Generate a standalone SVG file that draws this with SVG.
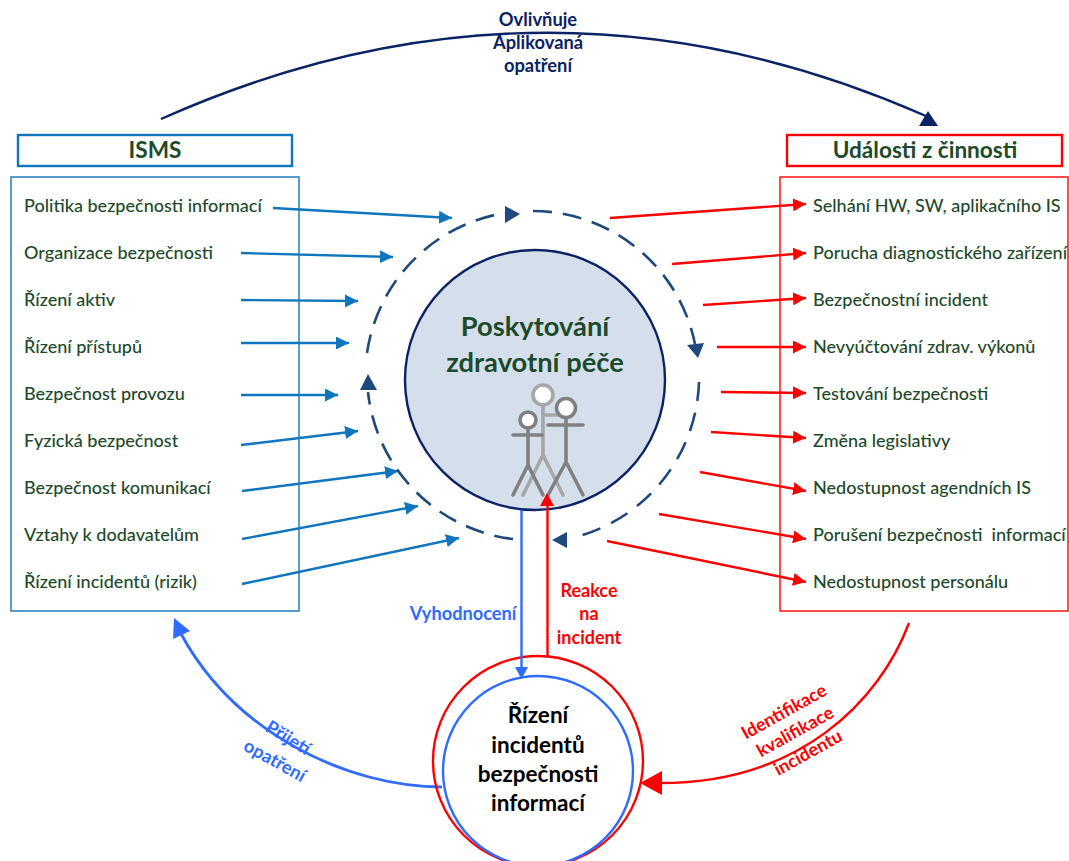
<svg xmlns="http://www.w3.org/2000/svg" width="1069" height="861" viewBox="0 0 1069 861">
<style>
text{font-family:Lato,"Noto Sans",sans-serif;font-weight:500}
.it{font-size:18.05px;fill:#1d4a2a}
.tt{font-size:22.6px;font-weight:700;fill:#1d4a2a;text-anchor:middle}
.ct{font-size:27.3px;font-weight:700;fill:#1d4a2a;text-anchor:middle}
.nv{font-size:18.3px;font-weight:700;fill:#0b2265;text-anchor:middle}
.rd{font-size:18px;font-weight:700;fill:#f00;text-anchor:middle}
.bl{font-size:18.2px;font-weight:700;fill:#2f6bff;text-anchor:middle}
.bk{font-size:22.5px;font-weight:700;fill:#000;text-anchor:middle}
.ab{stroke:#0f75bc;stroke-width:2.4;fill:none;marker-end:url(#mb)}
.ar{stroke:#f00;stroke-width:2.4;fill:none;marker-end:url(#mr)}
.fig{fill:none;stroke-width:3.6;stroke-linecap:round}
.dash{fill:none;stroke:#1f497d;stroke-width:2.6;stroke-dasharray:19 11}
.head{fill:#1f497d}
</style>
<defs>
<marker id="mb" markerUnits="userSpaceOnUse" markerWidth="14" markerHeight="13" refX="13" refY="6.500" orient="auto"><path d="M0 0L13 6.500L0 13Z" fill="#0f75bc"/></marker>
<marker id="mr" markerUnits="userSpaceOnUse" markerWidth="14" markerHeight="13" refX="13" refY="6.500" orient="auto"><path d="M0 0L13 6.500L0 13Z" fill="#f00"/></marker>
</defs>
<g id="connectors">
<path d="M161 119Q545 -52 926 116" fill="none" stroke="#0b2265" stroke-width="2.4"/>
<path d="M928 111L919 126L938 126Z" fill="#0b2265"/>
<path class="ab" d="M273 208L452 218"/>
<path class="ab" d="M241 253L393 257"/>
<path class="ab" d="M241 300L358 301"/>
<path class="ab" d="M241 343L349 343"/>
<path class="ab" d="M241 395L338 395"/>
<path class="ab" d="M241 445L358 431"/>
<path class="ab" d="M242 491L398 471"/>
<path class="ab" d="M242 539L418 506"/>
<path class="ab" d="M242 584L459 538"/>
<path class="ar" d="M610 218L806 204"/>
<path class="ar" d="M672 264L806 253"/>
<path class="ar" d="M703 305L806 298"/>
<path class="ar" d="M717 347L806 347"/>
<path class="ar" d="M721 392L806 393"/>
<path class="ar" d="M711 432L806 438"/>
<path class="ar" d="M700 472L806 491"/>
<path class="ar" d="M659 514L806 539"/>
<path class="ar" d="M607 541L806 582"/>
<path d="M909 623C880 700 800 785 655 783" fill="none" stroke="#f00" stroke-width="2.4"/>
<path d="M640 783L662 771L662 795Z" fill="#f00"/>
<path d="M442 787C350 787 235 735 180 632" fill="none" stroke="#2f6bff" stroke-width="2.8"/>
<path d="M174 618L190 631L173 639Z" fill="#2f6bff"/>
</g>
<g id="cycle">
<path class="dash" d="M513 539A166 166 0 0 1 368 392"/>
<path class="dash" d="M367 353A166 166 0 0 1 505 213"/>
<path class="dash" d="M533 211A166 166 0 0 1 695 344"/>
<path class="dash" d="M699 382A166 166 0 0 1 572 538" style="stroke-dasharray:19 12"/>
<path class="head" d="M520 214L505 206L505 223Z"/>
<path class="head" d="M698 358L687 345L704 343Z"/>
<path class="head" d="M552 540L567 532L567 548Z"/>
<path class="head" d="M368 374L360 390L377 390Z"/>
</g>
<g id="isms"><rect x="18" y="135" width="274" height="31" fill="#fff" stroke="#0f75bc" stroke-width="2.4"/><text class="tt" x="155" y="158">ISMS</text></g>
<g id="udalosti"><rect x="787" y="135" width="275" height="31" fill="#fff" stroke="#f00" stroke-width="2.4"/><text class="tt" x="925" y="158">Události z činnosti</text></g>
<g id="isms-list"><rect x="11" y="177" width="288" height="434" fill="none" stroke="#0f75bc" stroke-width="1.4"/>
<text class="it" x="24" y="212">Politika bezpečnosti informací</text>
<text class="it" x="24" y="259">Organizace bezpečnosti</text>
<text class="it" x="24" y="306">Řízení aktiv</text>
<text class="it" x="24" y="353">Řízení přístupů</text>
<text class="it" x="24" y="400">Bezpečnost provozu</text>
<text class="it" x="24" y="447">Fyzická bezpečnost</text>
<text class="it" x="24" y="494">Bezpečnost komunikací</text>
<text class="it" x="24" y="541">Vztahy k dodavatelům</text>
<text class="it" x="24" y="588">Řízení incidentů (rizik)</text></g>
<g id="udalosti-list"><rect x="780" y="177" width="288" height="434" fill="none" stroke="#f00" stroke-width="1.4"/>
<text class="it" x="813" y="212">Selhání HW, SW, aplikačního IS</text>
<text class="it" x="813" y="259">Porucha diagnostického zařízení</text>
<text class="it" x="813" y="306">Bezpečnostní incident</text>
<text class="it" x="813" y="353">Nevyúčtování zdrav. výkonů</text>
<text class="it" x="813" y="400">Testování bezpečnosti</text>
<text class="it" x="813" y="447">Změna legislativy</text>
<text class="it" x="813" y="494">Nedostupnost agendních IS</text>
<text class="it" x="813" y="541" xml:space="preserve">Porušení bezpečnosti  informací</text>
<text class="it" x="813" y="588">Nedostupnost personálu</text></g>
<g id="pece"><circle cx="535" cy="380" r="130" fill="#d5dfec" stroke="#0b2265" stroke-width="2.4"/>
<text class="ct" x="535" y="336">Poskytování</text>
<text class="ct" x="535" y="372">zdravotní péče</text>
<g stroke="#a6a6a6" class="fig"><circle cx="543" cy="395" r="10" fill="#fff"/><path d="M543 405V455M543 455L523 495M543 455L563 495M543 415H560"/></g>
<g stroke="#808080" class="fig"><circle cx="566" cy="408" r="9.500" fill="#fff"/><path d="M566 418V462M566 462L548 495M566 462L583 495M548 425H583"/></g>
<g stroke="#808080" class="fig"><circle cx="528" cy="420" r="8" fill="#fff"/><path d="M528 428V465M528 465L513 495M528 465L543 495M513 435H542"/></g></g>
<g id="rizeni"><circle cx="538" cy="761" r="105" fill="none" stroke="#f00" stroke-width="2.4"/><circle cx="538" cy="771" r="95" fill="none" stroke="#2f6bff" stroke-width="2.4"/>
<text class="bk" x="538" y="723">Řízení</text><text class="bk" x="538" y="753">incidentů</text><text class="bk" x="538" y="782">bezpečnosti</text><text class="bk" x="538" y="811">informací</text></g>
<g id="links">
<path d="M521.500 510V670" fill="none" stroke="#2f6bff" stroke-width="2.4"/>
<path d="M521.500 679L515 667L528 667Z" fill="#2f6bff"/>
<path d="M547.500 656V500" fill="none" stroke="#f00" stroke-width="2.4"/>
<path d="M547 493L540 506L554 506Z" fill="#f00"/>
</g>
<g id="labels">
<text class="nv" x="538" y="26">Ovlivňuje</text><text class="nv" x="538" y="49">Aplikovaná</text><text class="nv" x="538" y="72">opatření</text>
<text class="bl" x="463" y="620">Vyhodnocení</text>
<text class="rd" x="589" y="597">Reakce</text><text class="rd" x="589" y="620">na</text><text class="rd" x="589" y="644">incident</text>
<text class="bl" transform="translate(285 743) rotate(31)">Přijetí</text>
<text class="bl" transform="translate(272 766) rotate(29)">opatření</text>
<text class="rd" transform="translate(787 717) rotate(-29)">Identifikace</text>
<text class="rd" transform="translate(798 737) rotate(-29)">kvalifikace</text>
<text class="rd" transform="translate(811 758) rotate(-29)">incidentu</text>
</g>
</svg>
